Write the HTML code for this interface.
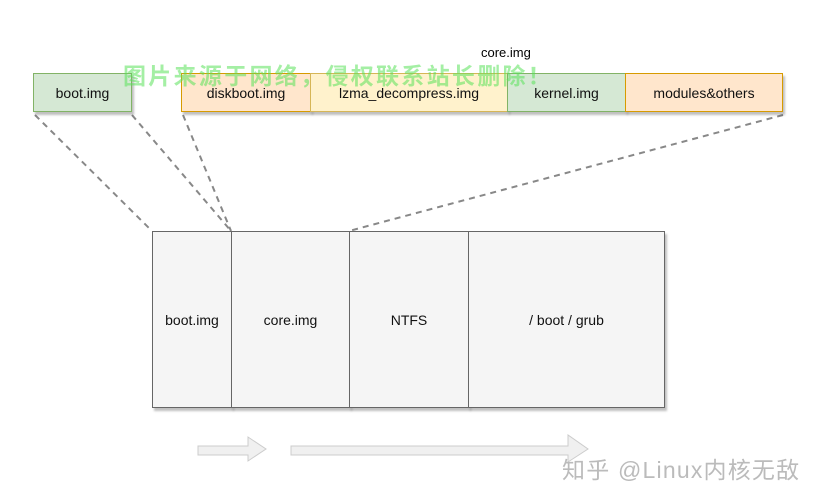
<!DOCTYPE html>
<html><head><meta charset="utf-8"><style>
body{margin:0;width:819px;height:500px;background:#fff;overflow:hidden;position:relative;font-family:"Comic Sans MS","Liberation Sans",sans-serif}
.b{position:absolute;box-sizing:border-box;display:flex;align-items:center;justify-content:center;font-size:14px;color:#111;box-shadow:2px 3px 2px rgba(0,0,0,0.25)}
.g{background:#d5e8d4;border:1px solid #82b366}
.p{background:#ffe6cc;border:1px solid #d79b00}
.y{background:#fff2cc;border:1px solid #d6b656}
.w{background:#f5f5f5;border:1px solid #666}
</style></head><body>
<svg width="819" height="500" style="position:absolute;left:0;top:0">
<g stroke="#888" stroke-width="2" stroke-dasharray="6,5" fill="none">
<line x1="35" y1="115" x2="152" y2="231"/>
<line x1="132" y1="115" x2="231" y2="231"/>
<line x1="183" y1="115" x2="231" y2="231"/>
<line x1="783" y1="115" x2="349" y2="231"/>
</g>
<g fill="#f0f0f0" stroke="#ccc" stroke-width="1">
<path d="M198 446 H248 V437 L266 449 L248 461 V455 H198 Z"/>
<path d="M291 446 H568 V435 L588 449 L568 462 V455 H291 Z"/>
</g>
</svg>
<div class="b g" style="left:33px;top:73px;width:99px;height:39px">boot.img</div>
<div class="b p" style="left:181px;top:73px;width:130px;height:39px">diskboot.img</div>
<div class="b y" style="left:310px;top:73px;width:198px;height:39px">lzma_decompress.img</div>
<div class="b g" style="left:507px;top:73px;width:119px;height:39px">kernel.img</div>
<div class="b p" style="left:625px;top:73px;width:158px;height:39px">modules&amp;others</div>
<div style="position:absolute;left:481px;top:45px;font-size:13px">core.img</div>
<div style="position:absolute;left:123px;top:57px;font-size:23px;color:rgba(90,225,90,0.55);font-family:'Noto Sans CJK SC',sans-serif;font-weight:bold;letter-spacing:2.3px;white-space:nowrap">图片来源于网络，侵权联系站长删除！</div>
<div class="b w" style="left:152px;top:231px;width:80px;height:177px">boot.img</div>
<div class="b w" style="left:231px;top:231px;width:119px;height:177px">core.img</div>
<div class="b w" style="left:349px;top:231px;width:120px;height:177px">NTFS</div>
<div class="b w" style="left:468px;top:231px;width:197px;height:177px">/ boot / grub</div>
<div style="position:absolute;left:562px;top:451px;font-size:23px;letter-spacing:1.2px;color:#bbb;white-space:nowrap;font-family:'Liberation Sans','Noto Sans CJK SC',sans-serif">知乎 @Linux内核无敌</div>
</body></html>
